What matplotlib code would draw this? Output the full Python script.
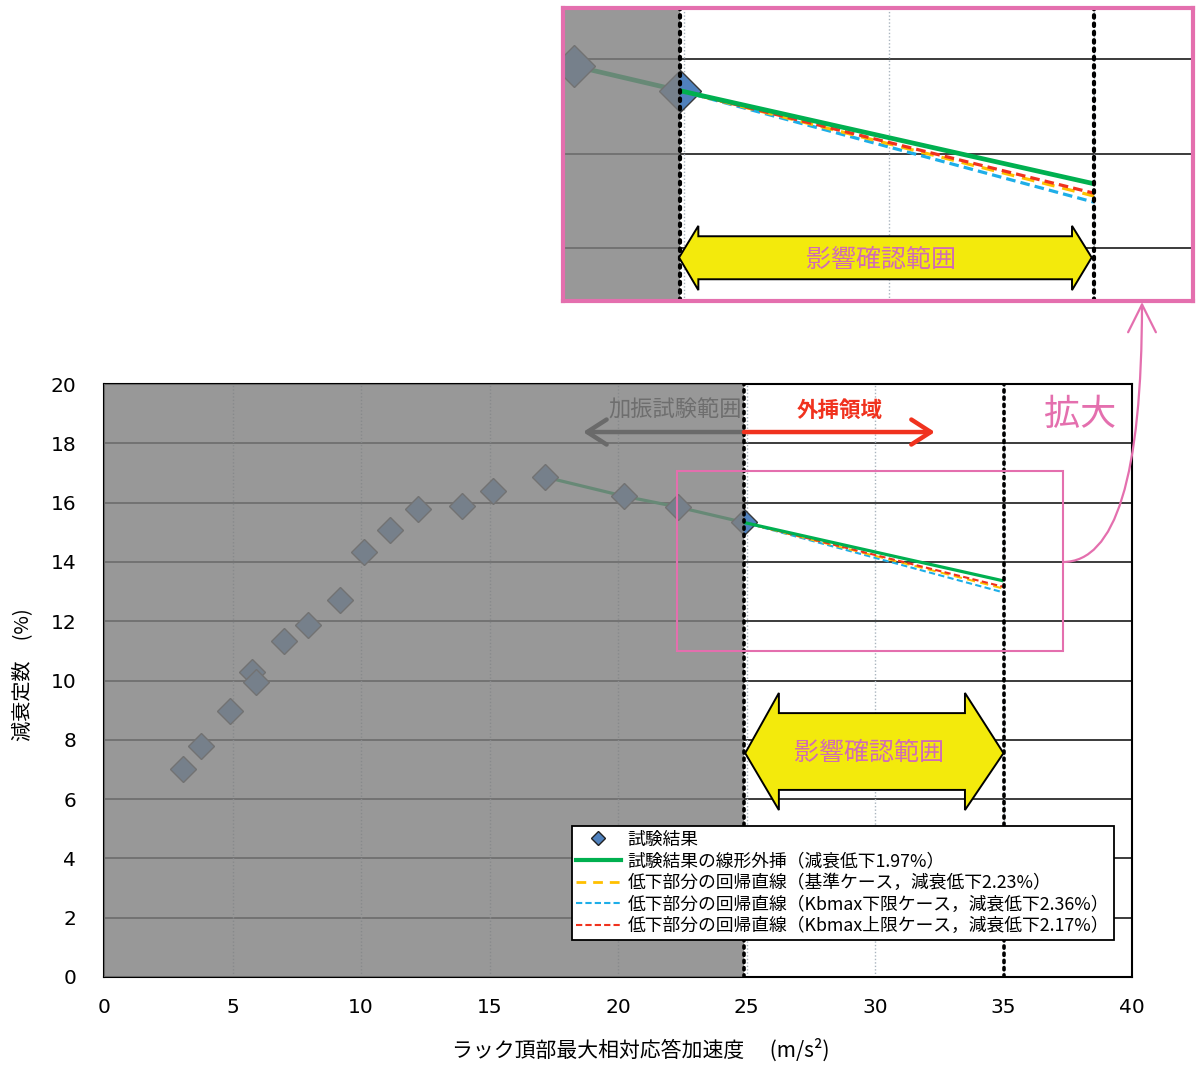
import matplotlib
matplotlib.use('Agg')
import matplotlib.pyplot as plt
from matplotlib.patches import Rectangle, Polygon, FancyArrowPatch
from matplotlib.lines import Line2D

plt.rcParams['font.family'] = ['Noto Sans CJK JP', 'DejaVu Sans']

# ---------------- data ----------------
accel = [3.07, 3.76, 4.89, 5.75, 5.90, 7.01, 7.92, 9.17, 10.10, 11.13,
         12.21, 13.92, 15.14, 17.17, 20.22, 22.33, 24.90]
damping = [7.03, 7.80, 8.97, 10.30, 9.96, 11.33, 11.87, 12.70, 14.34, 15.08,
           15.78, 15.90, 16.40, 16.86, 16.22, 15.85, 15.33]
fit_start = 13            # index of first point in the decreasing part
extrap_end = 35.0
series_labels = ['試験結果の線形外挿（減衰低下1.97%）',
                 '低下部分の回帰直線（基準ケース，減衰低下2.23%）',
                 '低下部分の回帰直線（Kbmax下限ケース，減衰低下2.36%）',
                 '低下部分の回帰直線（Kbmax上限ケース，減衰低下2.17%）']
series_drop = [1.97, 2.23, 2.36, 2.17]
series_colors = ['#00b050', '#ffc000', '#1eaee8', '#f0321e']
test_label = '試験結果'
xticks = [0, 5, 10, 15, 20, 25, 30, 35, 40]
yticks = [0, 2, 4, 6, 8, 10, 12, 14, 16, 18, 20]
test_limit = 24.9

PINK = '#e46fae'
YELLOW = '#f3ea0c'
TXTPINK = '#d16cb5'
MARKER = '#4f81bd'

fig = plt.figure(figsize=(12.04, 10.68), dpi=100)
W, H = 1204, 1068


def fbox(l, t, r, b):
    return [l / W, 1 - b / H, (r - l) / W, (b - t) / H]


def draw_panel(ax, xlim, ylim, ms, lw_g, lw_d, dot_lw):
    ax.set_xlim(*xlim)
    ax.set_ylim(*ylim)
    # horizontal grid
    for y in yticks[1:-1]:
        ax.axhline(y, color='#1a1a1a', lw=1.2, zorder=1)
    # vertical light grid
    for x in xticks[1:-1]:
        ax.axvline(x, color='#a9b4be', lw=1.0, ls=(0, (1, 1.5)), zorder=1)
    # test results
    ax.plot(accel, damping, ls='none', marker='D', ms=ms, mfc=MARKER,
            mec='#3a3a3a', mew=1.0, zorder=3)
    ax.plot(accel[fit_start:], damping[fit_start:], color=series_colors[0],
            lw=lw_g, zorder=2.9)
    # gray overlay for tested range
    ax.axvspan(xlim[0] - 1, test_limit, color='#808080', alpha=0.81, lw=0, zorder=4)
    # extrapolation lines
    x0, y0 = accel[-1], damping[-1]
    styles = [None, (0, (4, 2.5)), (0, (3, 1.6)), (2, (3, 1.6))]
    order = [2, 1, 3, 0]
    for i in order:
        lw = lw_g if i == 0 else lw_d
        ls = '-' if i == 0 else styles[i]
        ax.plot([x0, extrap_end], [y0, y0 - series_drop[i]], color=series_colors[i],
                lw=lw, ls=ls, zorder=5 + (0.5 if i == 0 else 0), solid_capstyle='butt')
    # dotted boundary lines
    for x in [test_limit, extrap_end]:
        ax.axvline(x, color='black', lw=dot_lw, ls=(0, (0.6, 1.4)),
                   dash_capstyle='round', zorder=6)


# ---------------- main axes ----------------
ax = fig.add_axes(fbox(104, 384, 1132, 977))
draw_panel(ax, (0, 40), (0, 20), ms=13.5, lw_g=2.3, lw_d=1.5, dot_lw=2.6)
ax.set_xticks(xticks)
ax.set_yticks(yticks)
ax.tick_params(length=0, labelsize=14.5, labelfontfamily='DejaVu Sans')
ax.tick_params(axis='y', pad=20)
ax.tick_params(axis='x', pad=15)
for s in ax.spines.values():
    s.set_color('black')
    s.set_linewidth(1.5)

# yellow double arrow (main)
def double_arrow(a, tl, bl, br, tr, yc, ht, hb, st, sb, zorder=7):
    pts = [(tl, yc), (bl, ht), (bl, st), (br, st), (br, ht), (tr, yc),
           (br, hb), (br, sb), (bl, sb), (bl, hb)]
    a.add_patch(Polygon(pts, closed=True, fc=YELLOW, ec='black', lw=1.4, zorder=zorder))

double_arrow(ax, 24.95, 26.26, 33.5, 35.0, 7.55, 9.58, 5.63, 8.9, 6.31)
ax.text(29.77, 7.55, '影響確認範囲', ha='center', va='center', fontsize=18,
        color=TXTPINK, zorder=8)

# range arrows
yarr = 18.38
ax.annotate('', xy=(18.64, yarr), xytext=(test_limit, yarr),
            arrowprops=dict(arrowstyle='->,head_length=0.7,head_width=0.45',
                            color='#6a6a6a', lw=3.2, mutation_scale=20,
                            shrinkA=0, shrinkB=0), zorder=7)
ax.annotate('', xy=(32.33, yarr), xytext=(test_limit, yarr),
            arrowprops=dict(arrowstyle='->,head_length=0.7,head_width=0.45',
                            color='#f0321e', lw=3.2, mutation_scale=20,
                            shrinkA=0, shrinkB=0), zorder=7)
ax.text(22.22, 19.12, '加振試験範囲', ha='center', va='center', fontsize=16,
        color='#6e6e6e', zorder=8)
ax.text(28.64, 19.12, '外挿領域', ha='center', va='center', fontsize=15.5,
        color='#f0321e', fontweight='bold', zorder=8)
ax.text(37.98, 18.95, '拡大', ha='center', va='center', fontsize=26,
        color=PINK, zorder=8)

# pink zoom rectangle
ax.add_patch(Rectangle((22.3, 10.99), 15.02, 6.08, fill=False, ec=PINK, lw=1.5,
                       zorder=8))

# legend
handles = [Line2D([], [], ls='none', marker='D', ms=7, mfc=MARKER, mec='#202020'),
           Line2D([], [], color=series_colors[0], lw=3),
           Line2D([], [], color=series_colors[1], lw=2, ls=(0, (3.5, 2.5))),
           Line2D([], [], color=series_colors[2], lw=1.5, ls=(0, (3, 1.5))),
           Line2D([], [], color=series_colors[3], lw=1.5, ls=(0, (3, 1.5)))]
leg = ax.legend(handles, [test_label] + series_labels, loc='upper left',
                bbox_to_anchor=(0.455, 0.2546), borderaxespad=0, fontsize=12.8,
                handlelength=2.5, handletextpad=0.4, labelspacing=0.21,
                borderpad=0.25, fancybox=False, framealpha=1, edgecolor='black')
leg.get_frame().set_linewidth(1.3)
leg.set_zorder(20)

# axis labels
fig.text(24 / W, 1 - 675 / H, '減衰定数　(%)', rotation=90, ha='center',
         va='center', fontsize=14.5)
fig.text(452 / W, 1 - 1050 / H, 'ラック頂部最大相対応答加速度　 (m/s²)', ha='left',
         va='center', fontsize=15)

# ---------------- inset ----------------
ax2 = fig.add_axes(fbox(563, 8, 1193, 301))
draw_panel(ax2, (22.05, 37.41), (10.88, 17.08), ms=21, lw_g=3.4, lw_d=2.3,
           dot_lw=3.0)
ax2.set_xticks([])
ax2.set_yticks([])
for s in ax2.spines.values():
    s.set_color(PINK)
    s.set_linewidth(3)
    s.set_zorder(20)
double_arrow(ax2, 24.88, 25.35, 34.46, 34.94, 11.80, 12.47, 11.11, 12.25, 11.34)
ax2.text(29.81, 11.75, '影響確認範囲', ha='center', va='center', fontsize=18,
         color=TXTPINK, zorder=8)

# curved pink arrow from rectangle to inset
arr = FancyArrowPatch((1063 / W, 1 - 562 / H), (1142 / W, 1 - 302 / H),
                      transform=fig.transFigure,
                      connectionstyle='angle3,angleA=0,angleB=90',
                      arrowstyle='->,head_length=1.0,head_width=0.5',
                      mutation_scale=20, color=PINK, lw=1.6,
                      shrinkA=0, shrinkB=0)
fig.patches.append(arr)

fig.savefig('out.png', dpi=100)
